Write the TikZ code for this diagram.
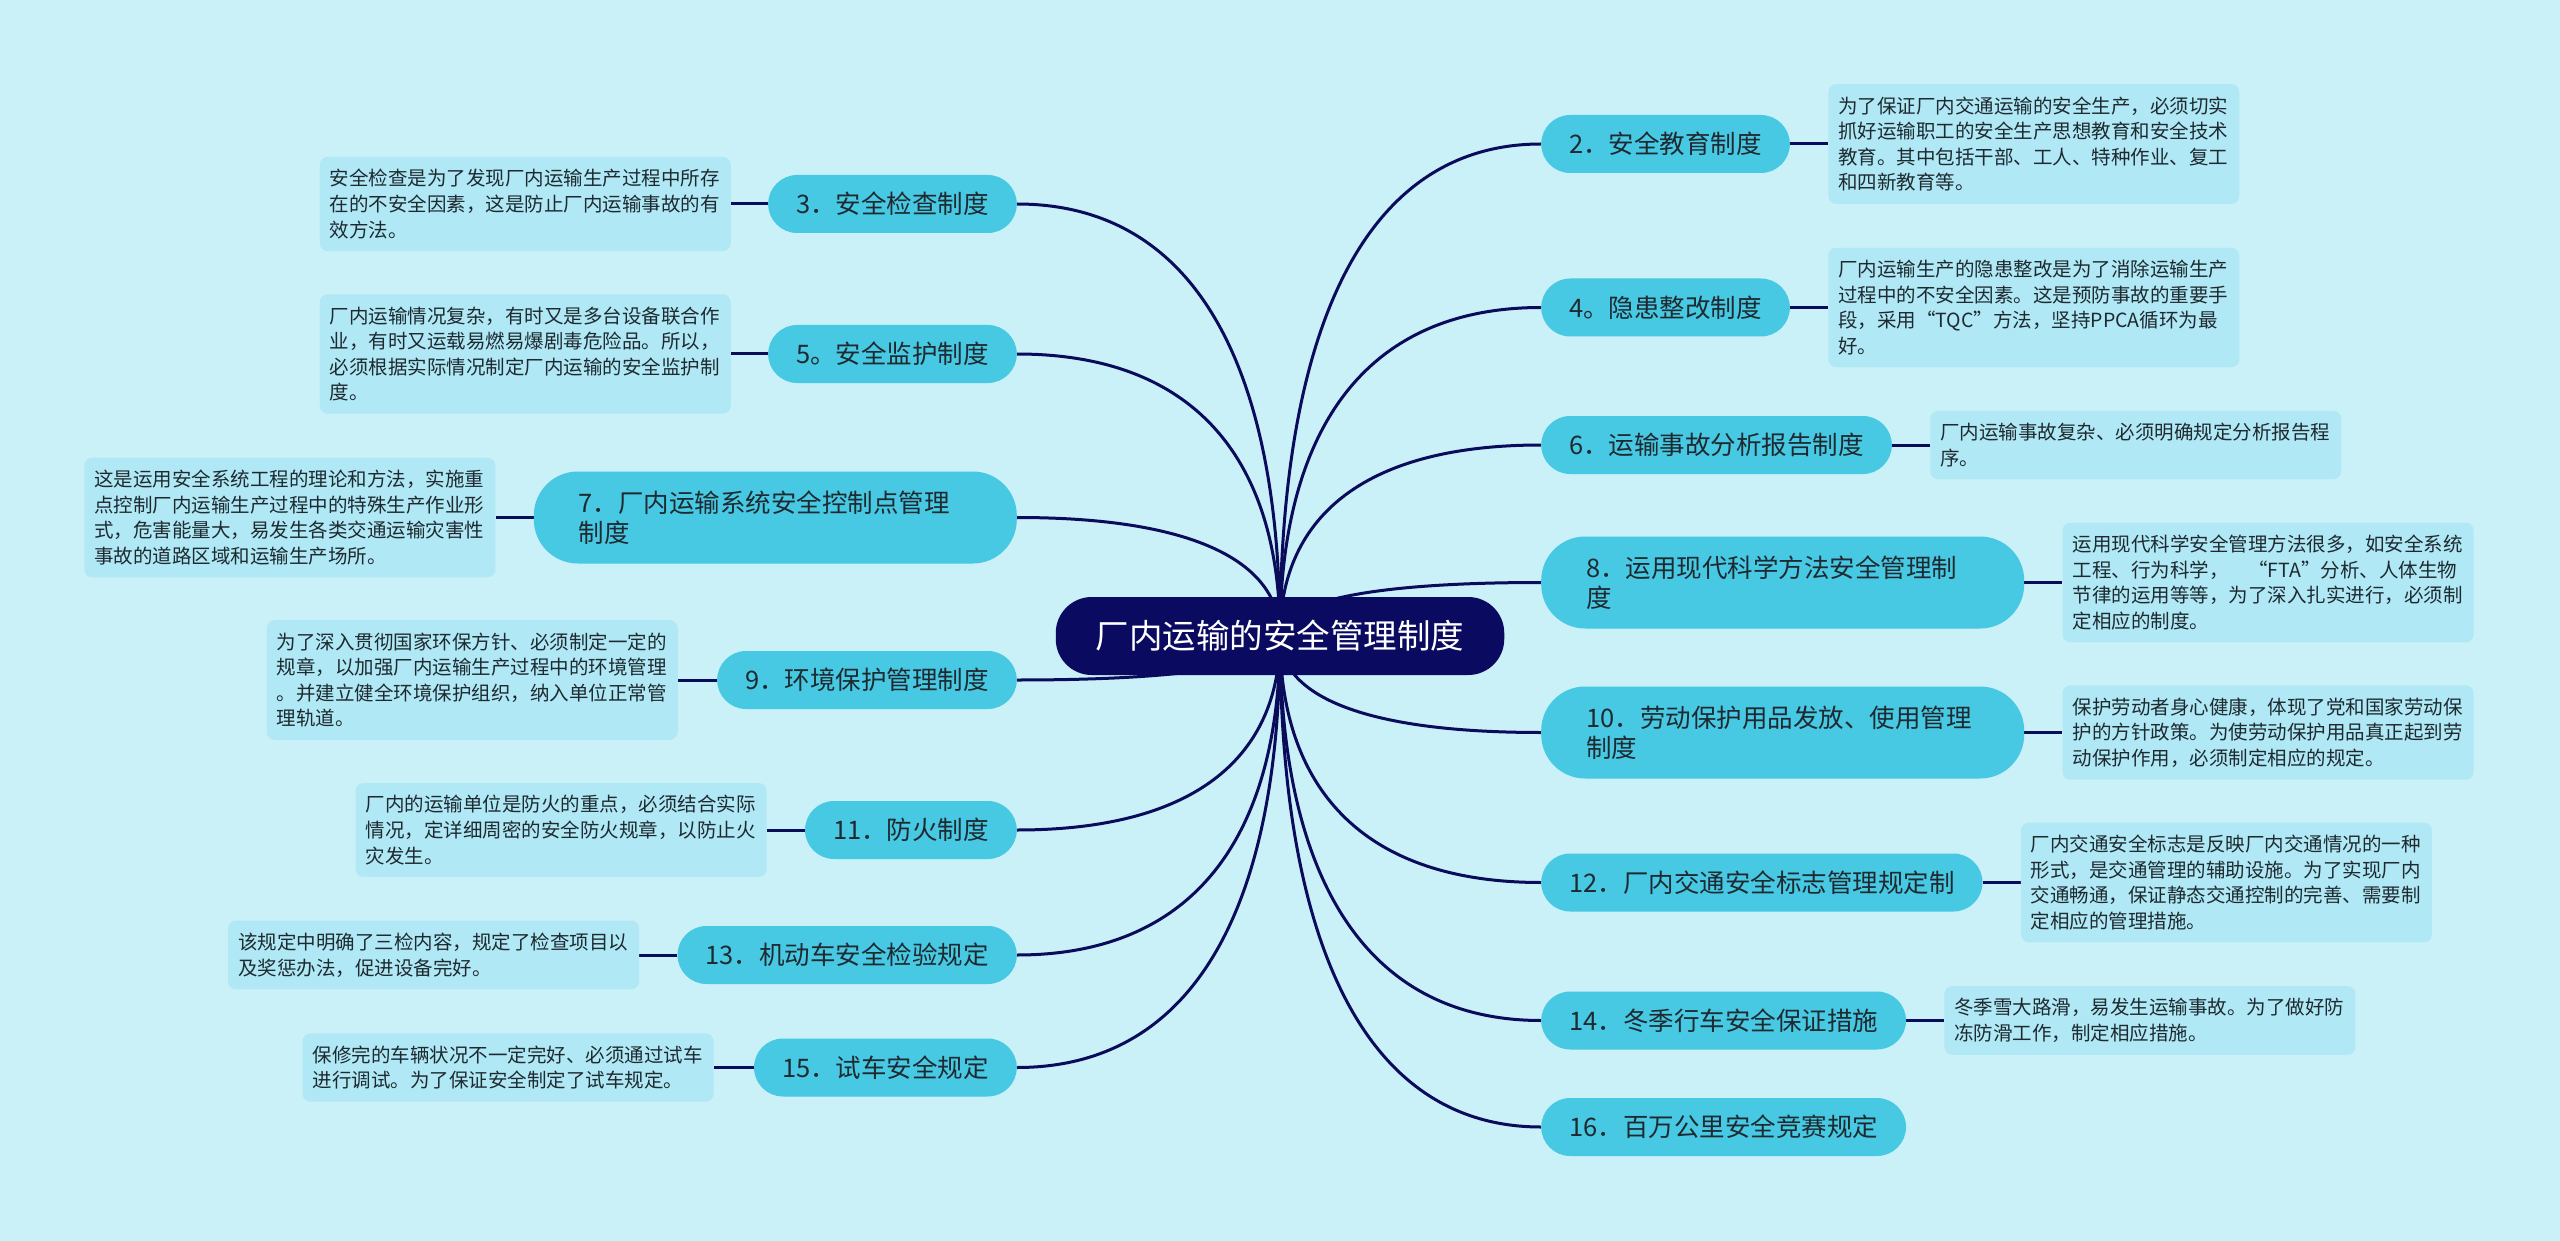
\documentclass[tikz,border=0pt]{standalone}
\usepackage{fontspec}
\setmainfont{Noto Sans CJK SC}
\usetikzlibrary{calc}
\pgfdeclarelayer{bg}\pgfdeclarelayer{edges}
\pgfsetlayers{bg,edges,main}
\definecolor{bgc}{HTML}{CAF0F8}
\definecolor{topicc}{HTML}{47C8E3}
\definecolor{descc}{HTML}{B0E8F5}
\definecolor{linec}{HTML}{0B0B5C}
\definecolor{rootc}{HTML}{0A0A60}
\definecolor{txtc}{HTML}{1E2A30}
\newcommand\mmlink[2]{\draw[conn] let \p1=(#1), \p2=(#2) in (\p1) .. controls (\x1,{\y1+0.6*(\y2-\y1)}) and ({\x1+0.3*(\x2-\x1)},\y2) .. (\p2);}
\begin{document}
\begin{tikzpicture}[x=1pt,y=-1pt,
 root/.style={fill=rootc, text=white, rounded corners=36pt, minimum height=78pt, inner xsep=40pt, font=\fontsize{33.5}{40}\selectfont},
 topic/.style={fill=topicc, text=txtc, rounded corners=29pt, minimum height=58pt, inner xsep=28pt, font=\fontsize{25.5}{30}\selectfont},
 topictwo/.style={fill=topicc, text=txtc, rounded corners=44pt, minimum height=92pt, inner xsep=45pt, text width=393pt, align=left, font=\fontsize{25.5}{30}\selectfont},
 desc/.style={fill=descc, text=txtc, rounded corners=8pt, inner xsep=10pt, inner ysep=12.3pt, text width=391pt, align=left, font=\fontsize{19.5}{25.6}\selectfont},
 conn/.style={draw=linec, line width=3pt},
]
\useasboundingbox (0,0) rectangle (2560,1241);
\begin{pgfonlayer}{bg}
\fill[bgc] (0,0) rectangle (2560,1241);
\end{pgfonlayer}

\node[root] (c) at (1280,636) {厂内运输的安全管理制度};

% right topics
\node[topic, anchor=west] (n2) at (1541,144) {2．安全教育制度};
\node[topic, anchor=west] (n4) at (1541,307.5) {4。隐患整改制度};
\node[topic, anchor=west] (n6) at (1541,445) {6．运输事故分析报告制度};
\node[topictwo, anchor=west] (n8) at (1541,582.5) {8．运用现代科学方法安全管理制\\度};
\node[topictwo, anchor=west] (n10) at (1541,732.5) {10．劳动保护用品发放、使用管理\\制度};
\node[topic, anchor=west] (n12) at (1541,882.5) {12．厂内交通安全标志管理规定制};
\node[topic, anchor=west] (n14) at (1541,1020.5) {14．冬季行车安全保证措施};
\node[topic, anchor=west] (n16) at (1541,1127) {16．百万公里安全竞赛规定};

% left topics
\node[topic, anchor=east] (n3) at (1017,204) {3．安全检查制度};
\node[topic, anchor=east] (n5) at (1017,354) {5。安全监护制度};
\node[topictwo, anchor=east] (n7) at (1017,517.5) {7．厂内运输系统安全控制点管理\\制度};
\node[topic, anchor=east] (n9) at (1017,680) {9．环境保护管理制度};
\node[topic, anchor=east] (n11) at (1017,830) {11．防火制度};
\node[topic, anchor=east] (n13) at (1017,955) {13．机动车安全检验规定};
\node[topic, anchor=east] (n15) at (1017,1067.5) {15．试车安全规定};

% right descriptions
\node[desc, anchor=west] (d2) at ([xshift=38pt]n2.east) {为了保证厂内交通运输的安全生产，必须切实\\抓好运输职工的安全生产思想教育和安全技术\\教育。其中包括干部、工人、特种作业、复工\\和四新教育等。};
\node[desc, anchor=west] (d4) at ([xshift=38pt]n4.east) {厂内运输生产的隐患整改是为了消除运输生产\\过程中的不安全因素。这是预防事故的重要手\\段，采用“TQC”方法，坚持PPCA循环为最\\好。};
\node[desc, anchor=west] (d6) at ([xshift=38pt]n6.east) {厂内运输事故复杂、必须明确规定分析报告程\\序。};
\node[desc, anchor=west] (d8) at ([xshift=38pt]n8.east) {运用现代科学安全管理方法很多，如安全系统\\工程、行为科学，　“FTA”分析、人体生物\\节律的运用等等，为了深入扎实进行，必须制\\定相应的制度。};
\node[desc, anchor=west] (d10) at ([xshift=38pt]n10.east) {保护劳动者身心健康，体现了党和国家劳动保\\护的方针政策。为使劳动保护用品真正起到劳\\动保护作用，必须制定相应的规定。};
\node[desc, anchor=west] (d12) at ([xshift=38pt]n12.east) {厂内交通安全标志是反映厂内交通情况的一种\\形式，是交通管理的辅助设施。为了实现厂内\\交通畅通，保证静态交通控制的完善、需要制\\定相应的管理措施。};
\node[desc, anchor=west] (d14) at ([xshift=38pt]n14.east) {冬季雪大路滑，易发生运输事故。为了做好防\\冻防滑工作，制定相应措施。};

% left descriptions
\node[desc, anchor=east] (d3) at ([xshift=-37pt]n3.west) {安全检查是为了发现厂内运输生产过程中所存\\在的不安全因素，这是防止厂内运输事故的有\\效方法。};
\node[desc, anchor=east] (d5) at ([xshift=-37pt]n5.west) {厂内运输情况复杂，有时又是多台设备联合作\\业，有时又运载易燃易爆剧毒危险品。所以，\\必须根据实际情况制定厂内运输的安全监护制\\度。};
\node[desc, anchor=east] (d7) at ([xshift=-38pt]n7.west) {这是运用安全系统工程的理论和方法，实施重\\点控制厂内运输生产过程中的特殊生产作业形\\式，危害能量大，易发生各类交通运输灾害性\\事故的道路区域和运输生产场所。};
\node[desc, anchor=east] (d9) at ([xshift=-39pt]n9.west) {为了深入贯彻国家环保方针、必须制定一定的\\规章，以加强厂内运输生产过程中的环境管理\\。并建立健全环境保护组织，纳入单位正常管\\理轨道。};
\node[desc, anchor=east] (d11) at ([xshift=-38pt]n11.west) {厂内的运输单位是防火的重点，必须结合实际\\情况，定详细周密的安全防火规章，以防止火\\灾发生。};
\node[desc, anchor=east] (d13) at ([xshift=-38pt]n13.west) {该规定中明确了三检内容，规定了检查项目以\\及奖惩办法，促进设备完好。};
\node[desc, anchor=east] (d15) at ([xshift=-40pt]n15.west) {保修完的车辆状况不一定完好、必须通过试车\\进行调试。为了保证安全制定了试车规定。};

\begin{pgfonlayer}{edges}
\foreach \nd in {n2,n4,n6,n8,n10,n12,n14,n16} {\mmlink{c.center}{\nd.west}}
\foreach \nd in {n3,n5,n7,n9,n11,n13,n15} {\mmlink{c.center}{\nd.east}}
\foreach \k in {2,4,6,8,10,12,14} {\draw[conn] (n\k.east) -- (d\k.west);}
\foreach \k in {3,5,7,9,11,13,15} {\draw[conn] (n\k.west) -- (d\k.east);}
\end{pgfonlayer}
\end{tikzpicture}
\end{document}
